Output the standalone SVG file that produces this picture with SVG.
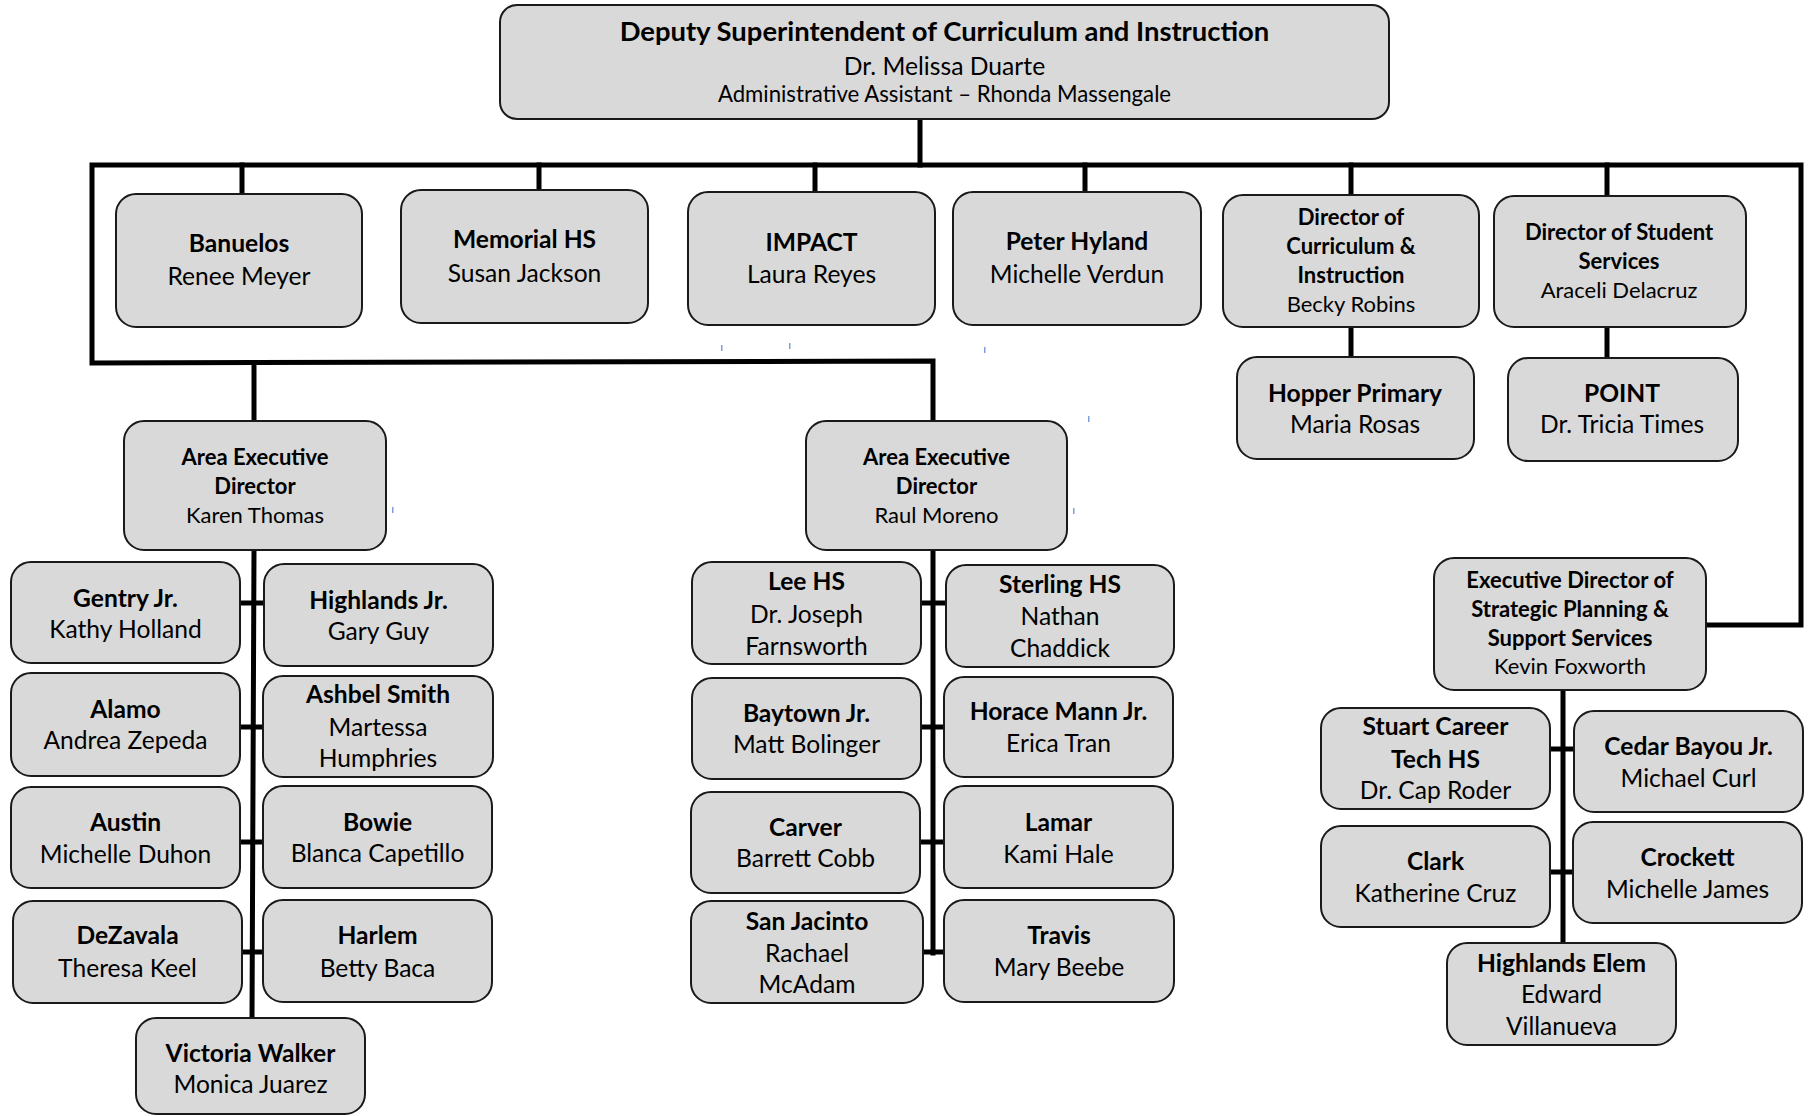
<svg xmlns="http://www.w3.org/2000/svg" width="1810" height="1116" viewBox="0 0 1810 1116">
<style>
.box{fill:#d9d9d9;stroke:#1a1a1a;stroke-width:2}
text{font-family:Lato,"Liberation Sans",sans-serif;text-anchor:middle;fill:#000}
.b{font-weight:bold}
.m{font-size:24.6px}
.s{font-size:22px}
.ln{stroke:#000;stroke-width:5;fill:none;stroke-linejoin:miter;stroke-linecap:square}
.tk{fill:#7f9fd6}
</style>
<g id="connectors">
<path class="ln" d="M920 119 V165"/>
<path class="ln" d="M1706 625 H1801 V165 H92 V363 L933 361 V421"/>
<path class="ln" d="M254 363 V421"/>
<path class="ln" d="M242 165 V194 M539 165 V190 M815 165 V192 M1085 165 V192 M1351 165 V195 M1607 165 V196"/>
<path class="ln" d="M1351 327 V357 M1607 327 V358"/>
<path class="ln" d="M254 550 L252 1018 M241 603 H263 M241 727 H262 M241 842 H262 M243 952 H262"/>
<path class="ln" d="M933 550 V953 M922 603 H945 M922 727 H943 M921 842 H943 M924 952 H943"/>
<path class="ln" d="M1563 690 V943 M1551 749 H1573 M1551 872 H1572"/>
<rect class="tk" x="721" y="345" width="1.5" height="6"/>
<rect class="tk" x="789" y="343" width="1.5" height="6"/>
<rect class="tk" x="984" y="347" width="1.5" height="6"/>
<rect class="tk" x="1088" y="416" width="1.5" height="6"/>
<rect class="tk" x="392" y="507" width="1.5" height="6"/>
<rect class="tk" x="1073" y="508" width="1.5" height="6"/>
</g>
<g id="deputy"><rect class="box" x="500" y="5" width="889" height="114" rx="17"/>
<text x="944.5" y="41" class="b" font-size="27.4">Deputy Superintendent of Curriculum and Instruction</text>
<text x="944.5" y="75" font-size="24.7">Dr. Melissa Duarte</text>
<text x="944.5" y="102" font-size="22.2">Administrative Assistant – Rhonda Massengale</text></g>
<g id="banuelos"><rect class="box" x="116" y="194" width="246" height="133" rx="20"/>
<text x="239" y="252" class="m b">Banuelos</text><text x="239" y="285" class="m">Renee Meyer</text></g>
<g id="memorial"><rect class="box" x="401" y="190" width="247" height="133" rx="20"/>
<text x="524.5" y="248" class="m b">Memorial HS</text><text x="524.5" y="282" class="m">Susan Jackson</text></g>
<g id="impact"><rect class="box" x="688" y="192" width="247" height="133" rx="20"/>
<text x="811.5" y="251" class="m b">IMPACT</text><text x="811.5" y="283" class="m">Laura Reyes</text></g>
<g id="peter-hyland"><rect class="box" x="953" y="192" width="248" height="133" rx="20"/>
<text x="1077" y="250" class="m b">Peter Hyland</text><text x="1077" y="283" class="m">Michelle Verdun</text></g>
<g id="dir-ci"><rect class="box" x="1223" y="195" width="256" height="132" rx="20"/>
<text x="1351" y="225" class="s b">Director of</text><text x="1351" y="254" class="s b">Curriculum &amp;</text><text x="1351" y="283" class="s b">Instruction</text><text x="1351" y="312" class="s">Becky Robins</text></g>
<g id="dir-ss"><rect class="box" x="1494" y="196" width="252" height="131" rx="20"/>
<text x="1619" y="240" class="s b">Director of Student</text><text x="1619" y="269" class="s b">Services</text><text x="1619" y="298" class="s">Araceli Delacruz</text></g>
<g id="hopper"><rect class="box" x="1237" y="357" width="237" height="102" rx="20"/>
<text x="1355" y="402" class="m b">Hopper Primary</text><text x="1355" y="433" class="m">Maria Rosas</text></g>
<g id="point"><rect class="box" x="1508" y="358" width="230" height="103" rx="20"/>
<text x="1622" y="402" class="m b">POINT</text><text x="1622" y="433" class="m">Dr. Tricia Times</text></g>
<g id="aed-thomas"><rect class="box" x="124" y="421" width="262" height="129" rx="20"/>
<text x="255" y="465" class="s b">Area Executive</text><text x="255" y="494" class="s b">Director</text><text x="255" y="523" class="s">Karen Thomas</text></g>
<g id="aed-moreno"><rect class="box" x="806" y="421" width="261" height="129" rx="20"/>
<text x="936.5" y="465" class="s b">Area Executive</text><text x="936.5" y="494" class="s b">Director</text><text x="936.5" y="523" class="s">Raul Moreno</text></g>
<g id="gentry"><rect class="box" x="11" y="562" width="229" height="101" rx="20"/>
<text x="125.5" y="607" class="m b">Gentry Jr.</text><text x="125.5" y="638" class="m">Kathy Holland</text></g>
<g id="highlands-jr"><rect class="box" x="264" y="564" width="229" height="102" rx="20"/>
<text x="378.5" y="609" class="m b">Highlands Jr.</text><text x="378.5" y="640" class="m">Gary Guy</text></g>
<g id="alamo"><rect class="box" x="11" y="673" width="229" height="103" rx="20"/>
<text x="125.5" y="718" class="m b">Alamo</text><text x="125.5" y="749" class="m">Andrea Zepeda</text></g>
<g id="ashbel"><rect class="box" x="263" y="676" width="230" height="101" rx="20"/>
<text x="378" y="703" class="m b">Ashbel Smith</text><text x="378" y="736" class="m">Martessa</text><text x="378" y="767" class="m">Humphries</text></g>
<g id="austin"><rect class="box" x="11" y="787" width="229" height="101" rx="20"/>
<text x="125.5" y="831" class="m b">Austin</text><text x="125.5" y="863" class="m">Michelle Duhon</text></g>
<g id="bowie"><rect class="box" x="263" y="786" width="229" height="102" rx="20"/>
<text x="377.5" y="831" class="m b">Bowie</text><text x="377.5" y="862" class="m">Blanca Capetillo</text></g>
<g id="dezavala"><rect class="box" x="13" y="901" width="229" height="102" rx="20"/>
<text x="127.5" y="944" class="m b">DeZavala</text><text x="127.5" y="977" class="m">Theresa Keel</text></g>
<g id="harlem"><rect class="box" x="263" y="900" width="229" height="102" rx="20"/>
<text x="377.5" y="944" class="m b">Harlem</text><text x="377.5" y="977" class="m">Betty Baca</text></g>
<g id="victoria-walker"><rect class="box" x="136" y="1018" width="229" height="96" rx="20"/>
<text x="250.5" y="1062" class="m b">Victoria Walker</text><text x="250.5" y="1093" class="m">Monica Juarez</text></g>
<g id="lee"><rect class="box" x="692" y="562" width="229" height="102" rx="20"/>
<text x="806.5" y="590" class="m b">Lee HS</text><text x="806.5" y="623" class="m">Dr. Joseph</text><text x="806.5" y="655" class="m">Farnsworth</text></g>
<g id="sterling"><rect class="box" x="946" y="565" width="228" height="102" rx="20"/>
<text x="1060" y="593" class="m b">Sterling HS</text><text x="1060" y="625" class="m">Nathan</text><text x="1060" y="657" class="m">Chaddick</text></g>
<g id="baytown"><rect class="box" x="692" y="678" width="229" height="101" rx="20"/>
<text x="806.5" y="722" class="m b">Baytown Jr.</text><text x="806.5" y="753" class="m">Matt Bolinger</text></g>
<g id="horace-mann"><rect class="box" x="944" y="677" width="229" height="100" rx="20"/>
<text x="1058.5" y="720" class="m b">Horace Mann Jr.</text><text x="1058.5" y="752" class="m">Erica Tran</text></g>
<g id="carver"><rect class="box" x="691" y="792" width="229" height="101" rx="20"/>
<text x="805.5" y="836" class="m b">Carver</text><text x="805.5" y="867" class="m">Barrett Cobb</text></g>
<g id="lamar"><rect class="box" x="944" y="786" width="229" height="102" rx="20"/>
<text x="1058.5" y="831" class="m b">Lamar</text><text x="1058.5" y="863" class="m">Kami Hale</text></g>
<g id="san-jacinto"><rect class="box" x="691" y="901" width="232" height="102" rx="20"/>
<text x="807" y="930" class="m b">San Jacinto</text><text x="807" y="962" class="m">Rachael</text><text x="807" y="993" class="m">McAdam</text></g>
<g id="travis"><rect class="box" x="944" y="900" width="230" height="102" rx="20"/>
<text x="1059" y="944" class="m b">Travis</text><text x="1059" y="976" class="m">Mary Beebe</text></g>
<g id="exec-strategic"><rect class="box" x="1434" y="558" width="272" height="132" rx="20"/>
<text x="1570" y="588" class="s b">Executive Director of</text><text x="1570" y="617" class="s b">Strategic Planning &amp;</text><text x="1570" y="646" class="s b">Support Services</text><text x="1570" y="674" class="s">Kevin Foxworth</text></g>
<g id="stuart"><rect class="box" x="1321" y="708" width="229" height="101" rx="20"/>
<text x="1435.5" y="735" class="m b">Stuart Career</text><text x="1435.5" y="768" class="m b">Tech HS</text><text x="1435.5" y="799" class="m">Dr. Cap Roder</text></g>
<g id="cedar-bayou"><rect class="box" x="1574" y="711" width="229" height="101" rx="20"/>
<text x="1688.5" y="755" class="m b">Cedar Bayou Jr.</text><text x="1688.5" y="787" class="m">Michael Curl</text></g>
<g id="clark"><rect class="box" x="1321" y="826" width="229" height="101" rx="20"/>
<text x="1435.5" y="870" class="m b">Clark</text><text x="1435.5" y="902" class="m">Katherine Cruz</text></g>
<g id="crockett"><rect class="box" x="1573" y="822" width="229" height="101" rx="20"/>
<text x="1687.5" y="866" class="m b">Crockett</text><text x="1687.5" y="898" class="m">Michelle James</text></g>
<g id="highlands-elem"><rect class="box" x="1447" y="943" width="229" height="102" rx="20"/>
<text x="1561.5" y="972" class="m b">Highlands Elem</text><text x="1561.5" y="1003" class="m">Edward</text><text x="1561.5" y="1035" class="m">Villanueva</text></g>
</svg>
